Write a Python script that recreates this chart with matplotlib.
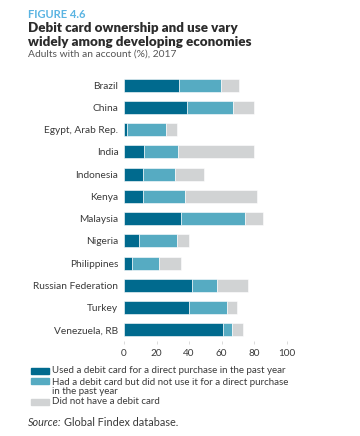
import matplotlib
matplotlib.use("Agg")
import matplotlib.pyplot as plt
from matplotlib.patches import Rectangle

plt.rcParams['font.family'] = ['Lato', 'DejaVu Sans']

# Data (Adults with an account, %, 2017)
countries = ["Brazil", "China", "Egypt, Arab Rep.", "India", "Indonesia", "Kenya",
             "Malaysia", "Nigeria", "Philippines", "Russian Federation", "Turkey",
             "Venezuela, RB"]
used = [33.8, 38.9, 2.0, 12.3, 11.5, 11.7, 35.0, 9.4, 4.9, 42.0, 40.0, 61.1]
not_used = [25.8, 28.3, 23.6, 20.7, 20.1, 26.0, 39.4, 23.0, 16.4, 15.2, 23.1, 5.5]
no_card = [11.1, 12.9, 7.2, 47.1, 17.6, 43.9, 11.3, 7.4, 13.5, 18.8, 6.2, 6.8]
xticks = [0, 20, 40, 60, 80, 100]

c_used = "#006a8e"
c_not = "#56abc2"
c_none = "#d1d3d4"
text_col = "#3a3a3a"

W, H = 360, 436

def fx(px):
    return px / W

def fy(px):
    return 1 - px / H

fig = plt.figure(figsize=(3.6, 4.36), dpi=100)
ax = fig.add_axes([fx(124), fy(341), 162.7 / W, 267 / H])

y = list(range(len(countries)))
left3 = [a + b for a, b in zip(used, not_used)]
ax.barh(y, used, height=0.58, color=c_used, edgecolor="white", linewidth=0.4)
ax.barh(y, not_used, left=used, height=0.58, color=c_not, edgecolor="white", linewidth=0.4)
ax.barh(y, no_card, left=left3, height=0.58, color=c_none, edgecolor="white", linewidth=0.4)

ax.set_xlim(0, 100)
ax.set_ylim(len(countries) - 0.5, -0.5)
ax.set_yticks(y)
ax.set_yticklabels(countries, fontsize=7.3, color=text_col)
ax.set_xticks(xticks)
ax.set_xticklabels([str(t) for t in xticks], fontsize=7.2, color=text_col)
ax.tick_params(axis="y", length=0, pad=4)
ax.tick_params(axis="x", length=2, width=0.5, color="#cccccc", pad=4)
for s in ax.spines.values():
    s.set_visible(False)

# titles
fig.text(fx(28), fy(15), "FIGURE 4.6", fontsize=8, fontweight="bold",
         color="#5ab4e2", va="center")
fig.text(fx(28), fy(28), "Debit card ownership and use vary", fontsize=9.6,
         fontweight="heavy", color="#2b2b2b", va="center")
fig.text(fx(28), fy(42), "widely among developing economies", fontsize=9.6,
         fontweight="heavy", color="#2b2b2b", va="center")
fig.text(fx(28), fy(54), "Adults with an account (%), 2017", fontsize=7.4,
         color="#555555", va="center")

# legend
patches = [(c_used, 370.7), (c_not, 380.5), (c_none, 402)]
for col, ypx in patches:
    fig.patches.append(Rectangle((fx(31), fy(ypx + 3)), 18 / W, 6 / H,
                                 transform=fig.transFigure, color=col))
legend_lines = [
    (370.7, "Used a debit card for a direct purchase in the past year"),
    (382.0, "Had a debit card but did not use it for a direct purchase"),
    (391.5, "in the past year"),
    (401.7, "Did not have a debit card"),
]
for ypx, line in legend_lines:
    fig.text(fx(52), fy(ypx), line, fontsize=7, color=text_col, va="center")

fig.text(fx(28), fy(422.5), "Source:", fontsize=7.8, style="italic",
         color=text_col, va="center")
fig.text(fx(64), fy(422.5), "Global Findex database.", fontsize=7.8,
         color=text_col, va="center")

fig.savefig("out.png", dpi=100)
